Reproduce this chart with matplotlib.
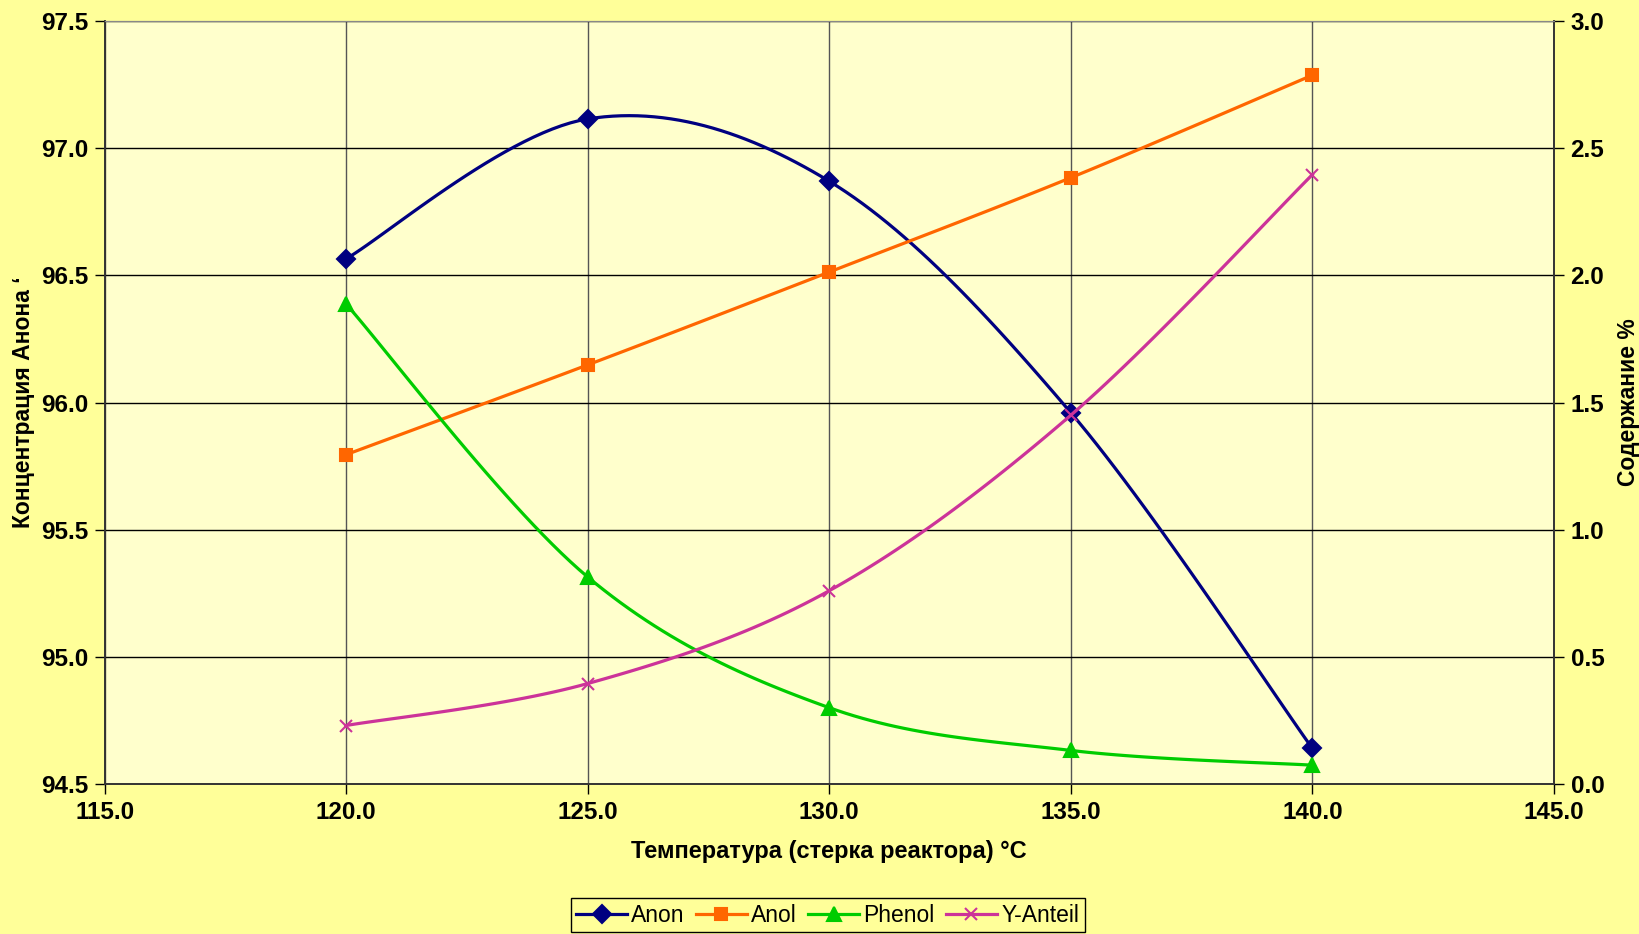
import matplotlib.pyplot as plt
import numpy as np

# data
temps = [120.0, 125.0, 130.0, 135.0, 140.0]
anon = [96.565, 97.115, 96.87, 95.96, 94.64]      # left axis
anol = [1.295, 1.648, 2.013, 2.384, 2.787]        # right axis
phenol = [1.887, 0.814, 0.30, 0.132, 0.074]
y_anteil = [0.23, 0.395, 0.76, 1.45, 2.396]

x_ticks = [115.0, 120.0, 125.0, 130.0, 135.0, 140.0, 145.0]
left_ticks = [94.5, 95.0, 95.5, 96.0, 96.5, 97.0, 97.5]
right_ticks = [0.0, 0.5, 1.0, 1.5, 2.0, 2.5, 3.0]

FIG_BG = '#FFFF99'
AX_BG = '#FFFFCC'


def smooth(xs, ys, n=30):
    # excel-like smoothed line (bezier through points, /6 tangents)
    p = np.column_stack([xs, ys]).astype(float)
    ext = np.vstack([p[0], p, p[-1]])
    out = []
    for i in range(len(p) - 1):
        p0, p1, p2, p3 = ext[i], ext[i + 1], ext[i + 2], ext[i + 3]
        c1 = p1 + (p2 - p0) / 6
        c2 = p2 - (p3 - p1) / 6
        t = np.linspace(0, 1, n)[:, None]
        seg = ((1 - t) ** 3) * p1 + 3 * ((1 - t) ** 2) * t * c1 + 3 * (1 - t) * t ** 2 * c2 + t ** 3 * p2
        out.append(seg if i == 0 else seg[1:])
    out = np.vstack(out)
    return out[:, 0], out[:, 1]


plt.rcParams['font.family'] = ['Liberation Sans', 'DejaVu Sans']

fig = plt.figure(figsize=(16.39, 9.34), dpi=100, facecolor=FIG_BG)
ax = fig.add_axes([0.0638, 0.1606, 0.8843, 0.8169])
ax.set_facecolor(AX_BG)
ax2 = ax.twinx()

ax.set_xlim(115, 145)
ax.set_ylim(94.5, 97.5)
ax2.set_ylim(0, 3.0)

TICK_FS = 17.5
ax.set_xticks(x_ticks)
ax.set_xticklabels([f'{v:.1f}' for v in x_ticks], fontsize=TICK_FS, fontweight='bold')
ax.set_yticks(left_ticks)
ax.set_yticklabels([f'{v:.1f}' for v in left_ticks], fontsize=TICK_FS, fontweight='bold')
ax2.set_yticks(right_ticks)
ax2.set_yticklabels([f'{v:.1f}' for v in right_ticks], fontsize=TICK_FS, fontweight='bold')

ax.grid(axis='y', color='black', linewidth=1)
ax.grid(axis='x', color='#555555', linewidth=1)
ax.set_axisbelow(True)

ax.tick_params(axis='both', direction='out', length=7, width=1, pad=5)
ax2.tick_params(axis='y', direction='out', length=7, width=1, pad=5)
for a in (ax, ax2):
    for s in ('left', 'right', 'bottom'):
        a.spines[s].set_color('#333333')
        a.spines[s].set_linewidth(1.2)
    a.spines['top'].set_color('#888888')

series = [
    (ax, anon, 'Anon', '#000080', 'D', 9),
    (ax2, anol, 'Anol', '#FF6600', 's', 9),
    (ax2, phenol, 'Phenol', '#00CC00', '^', 10),
    (ax2, y_anteil, 'Y-Anteil', '#CC3399', 'x', 9),
]
handles = []
for a, vals, name, col, mk, ms in series:
    sx, sy = smooth(temps, vals)
    a.plot(sx, sy, color=col, linewidth=2.3, zorder=3)
    a.plot(temps, vals, linestyle='none', marker=mk, markersize=ms, color=col,
           markeredgewidth=1.5, zorder=4)
    h, = a.plot([], [], color=col, linewidth=2.3, marker=mk, markersize=ms,
                markeredgewidth=1.5, label=name)
    handles.append(h)

ax.set_xlabel('Температура (стерка реактора) °C', fontsize=17, fontweight='bold', labelpad=12)
ax.set_ylabel('Концентрация Анона \u02bb', fontsize=16.5, fontweight='bold', labelpad=4)
ax2.set_ylabel('Содержание %', fontsize=16.5, fontweight='bold', labelpad=9)

leg = fig.legend(handles=handles, loc='upper center', bbox_to_anchor=(0.505, 0.0385),
                 borderaxespad=0, ncol=4, fontsize=16.5, frameon=True, fancybox=False,
                 edgecolor='black', facecolor=FIG_BG, framealpha=1, handlelength=2.2,
                 handletextpad=0.2, columnspacing=0.5, borderpad=0.25)

fig.savefig('out.png', dpi=100, facecolor=FIG_BG)
